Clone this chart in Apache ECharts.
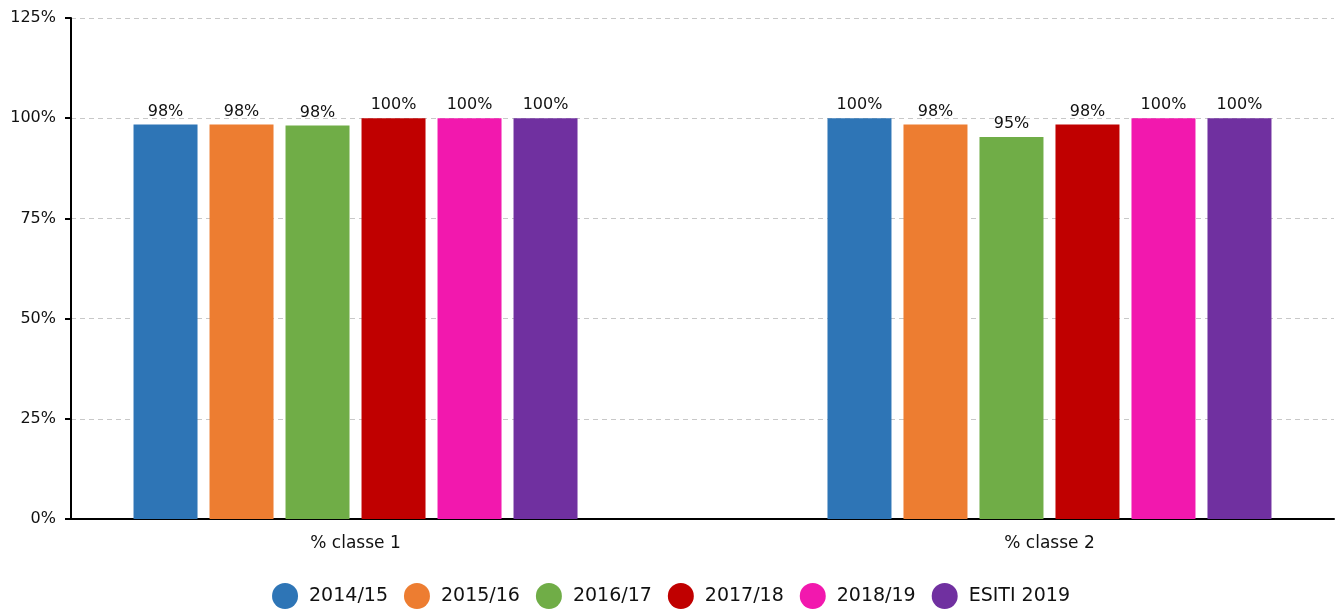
<!DOCTYPE html>
<html><head><meta charset="utf-8">
<script src="https://cdn.jsdelivr.net/npm/echarts@6/dist/echarts.min.js"></script>
<style>html,body{margin:0;padding:0;background:#fff}#c{width:1342px;height:612px}</style>
</head><body><div id="c"></div>
<script>
const categories = ['% classe 1', '% classe 2'];
const seriesNames = ['2014/15', '2015/16', '2016/17', '2017/18', '2018/19', 'ESITI 2019'];
const colors = ['#2E75B6', '#ED7D31', '#70AD47', '#C00000', '#F218AE', '#7030A0'];
const v2014 = [98.4, 100];
const v2015 = [98.4, 98.4];
const v2016 = [98.2, 95.3];
const v2017 = [100, 98.4];
const v2018 = [100, 100];
const vEsiti = [100, 100];
const allValues = [v2014, v2015, v2016, v2017, v2018, vEsiti];
const yTicks = [0, 25, 50, 75, 100, 125];

const font = 'DejaVu Sans';
const catIdx = categories.map((c, i) => i);
const chart = echarts.init(document.getElementById('c'));
chart.setOption({
  animation: false,
  textStyle: { fontFamily: font },
  color: colors,
  grid: { left: 71, right: 8, top: 18, bottom: 93, containLabel: false },
  legend: {
    top: 583, left: 'center', icon: 'circle', itemWidth: 26, itemHeight: 26, itemGap: 16,
    padding: 0,
    textStyle: { fontFamily: font, fontSize: 19, color: '#111', padding: [0, 0, 0, 6] },
    data: seriesNames
  },
  xAxis: {
    type: 'value', min: -0.41, max: 1.41,
    splitLine: { show: false },
    axisLine: { onZero: false, lineStyle: { color: '#000', width: 2 } },
    axisTick: { show: false },
    axisLabel: { customValues: catIdx, fontFamily: font, fontSize: 17, color: '#111', margin: 16,
      formatter: v => categories[Math.round(v)] || '' }
  },
  yAxis: {
    type: 'value', min: yTicks[0], max: yTicks[yTicks.length - 1], interval: 25,
    axisLine: { show: true, onZero: false, lineStyle: { color: '#000', width: 2 } },
    axisTick: { show: true, length: 6, lineStyle: { color: '#000', width: 2 } },
    axisLabel: { fontFamily: font, fontSize: 16, color: '#111', margin: 15, formatter: v => v + '%' },
    splitLine: { lineStyle: { color: '#c8c8c8', type: [5, 4] } }
  },
  series: seriesNames.map((n, i) => ({
    name: n, type: 'bar', data: allValues[i].map((v, j) => [catIdx[j], v]), barWidth: 64, barGap: '18.75%',
    label: { show: true, position: 'top', distance: 5, fontFamily: font, fontSize: 16, color: '#111',
      formatter: p => Math.round(p.value[1]) + '%' }
  }))
});
</script></body></html>
